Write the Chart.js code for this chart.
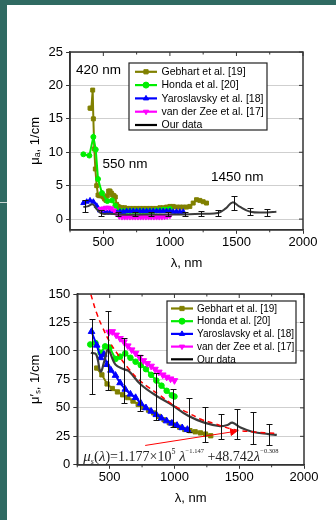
<!DOCTYPE html>
<html>
<head>
<meta charset="utf-8">
<script src="https://cdn.jsdelivr.net/npm/chart.js@4.4.1/dist/chart.umd.min.js"></script>
<style>
  html, body { margin: 0; padding: 0; background: #fff; }
  #page { position: relative; width: 336px; height: 520px; overflow: hidden; background: #fff; }
  .edge-top { position: absolute; left: 0; top: 0; width: 336px; height: 5px; background: #2f6a62; }
  .edge-left { position: absolute; left: 0; top: 0; width: 7px; height: 520px; background: #2f6a62; }
  .edge-mark { position: absolute; left: 0; top: 202px; width: 7px; height: 1px; background: #c9d6d3; }
  #absorb { position: absolute; left: 0; top: 0; }
  #scatter { position: absolute; left: 0; top: 265px; }
</style>
</head>
<body>
<div id="page">
  <div class="edge-top"></div>
  <div class="edge-left"></div>
  <div class="edge-mark"></div>
  <canvas id="absorb" width="336" height="275"></canvas>
  <canvas id="scatter" width="336" height="255"></canvas>
</div>
<script>
// ---- shared axis ticks ----
const xTicks = [500, 1000, 1500, 2000];
const muaTicks = [0, 5, 10, 15, 20, 25];
const musTicks = [0, 25, 50, 75, 100, 125, 150];

const names = ['Gebhart et al. [19]', 'Honda et al. [20]', 'Yaroslavsky et al. [18]', 'van der Zee et al. [17]', 'Our data'];

// ---- absorption, mu_a (1/cm) ----
const gebLamA = [400, 410, 420, 425, 432, 440, 450, 460, 470, 480, 490, 500, 510, 520, 530, 540, 550, 560, 570, 580, 590, 600, 610, 620, 640, 660, 680, 700, 725, 750, 775, 800, 825, 850, 875, 900, 925, 950, 975, 1000, 1025, 1050, 1075, 1100, 1125, 1150, 1175, 1200, 1225, 1250, 1275];
const gebMuA = [16.6, 16.6, 19.3, 15, 10.5, 7.5, 5, 3.6, 3.5, 3.5, 3.5, 3.3, 3, 2.8, 3.5, 4.2, 4.2, 3.9, 3.6, 3.5, 3.3, 2.2, 1.9, 1.8, 1.7, 1.7, 1.6, 1.6, 1.6, 1.6, 1.6, 1.6, 1.6, 1.6, 1.6, 1.6, 1.7, 1.7, 1.8, 1.9, 1.9, 1.8, 1.8, 1.8, 1.8, 1.9, 2.4, 2.9, 2.8, 2.6, 2.4];

const hondaLamA = [350, 395, 425, 443, 460, 490, 530, 565, 590, 610, 625, 650, 675, 700, 725, 750, 775, 800, 825, 850, 875, 900, 925, 950, 975, 1000];
const hondaMuA = [9.7, 9.5, 12.3, 10.4, 6, 3.9, 2.7, 2.8, 2.0, 1.3, 1.2, 1.2, 1.2, 1.2, 1.2, 1.2, 1.2, 1.2, 1.2, 1.2, 1.2, 1.3, 1.3, 1.4, 1.4, 1.5];

const yaroLamA = [350, 375, 400, 425, 450, 475, 500, 525, 550, 575, 600, 625, 650, 675, 700, 725, 750, 775, 800, 825, 850, 875, 900, 925, 950, 975, 1000, 1025, 1050, 1075, 1100];
const yaroMuA = [2.4, 2.6, 2.8, 2.6, 2.0, 1.3, 1.1, 1.0, 1.0, 1.0, 1.0, 1.1, 1.1, 1.2, 1.2, 1.2, 1.2, 1.2, 1.2, 1.2, 1.2, 1.2, 1.2, 1.2, 1.2, 1.2, 1.2, 1.1, 1.1, 1.1, 1.1];

const zeeLamA = [480, 500, 520, 540, 560, 580, 600, 620, 640, 660, 680, 700, 720, 740, 760, 780, 800, 820, 840, 860, 880, 900, 920, 940, 960, 980, 1000];
const zeeMuA = [1.5, 1.6, 1.7, 1.7, 1.6, 1.3, 0.8, 0.4, 0.3, 0.3, 0.3, 0.3, 0.3, 0.3, 0.3, 0.3, 0.3, 0.3, 0.3, 0.3, 0.3, 0.3, 0.3, 0.3, 0.35, 0.4, 0.5];

const ourLamA = [350, 380, 420, 450, 485, 550, 610, 735, 860, 985, 1110, 1235, 1360, 1420, 1470, 1520, 1605, 1730, 1800];
const ourMuA = [1.8, 1.9, 2.2, 1.5, 0.85, 0.8, 0.7, 0.65, 0.7, 0.7, 0.7, 0.8, 0.9, 1.6, 2.5, 1.9, 1.1, 1.0, 1.1];

const errLam = [360, 485, 610, 735, 860, 985, 1110, 1235, 1360, 1480, 1605, 1730];
const errLoA = [1.0, 0.5, 0.4, 0.4, 0.4, 0.4, 0.4, 0.5, 0.5, 1.3, 0.6, 0.5];
const errHiA = [2.8, 1.3, 1.0, 1.0, 1.0, 1.1, 1.1, 1.2, 1.4, 3.5, 1.6, 1.5];

// ---- reduced scattering, mu_s' (1/cm) ----
const gebLamS = [400, 440, 480, 520, 560, 600, 640, 680, 720, 760, 800, 840, 880, 920, 960, 1000, 1040, 1080, 1120, 1160, 1200, 1240, 1280];
const gebMuS = [85, 79, 71, 67, 64, 61.5, 59, 56, 53, 50.5, 48, 45.5, 42.5, 39.5, 37, 35, 33, 31, 30, 29, 28, 27, 25.5];

const hondaLamS = [350, 390, 430, 465, 500, 545, 580, 620, 660, 700, 740, 780, 820, 860, 900, 940, 980, 1000];
const hondaMuS = [105.7, 107, 98.4, 104, 103, 93, 95, 97.8, 94, 90.5, 87.5, 84, 79, 74, 69.5, 65, 61, 60];

const yaroLamS = [360, 400, 430, 455, 480, 510, 545, 580, 620, 660, 700, 740, 780, 820, 860, 900, 940, 980, 1020, 1060, 1100];
const yaroMuS = [117, 105, 94, 97, 88, 83, 78.5, 72, 66.3, 62, 59, 54, 50, 47, 44, 41, 38.5, 36.5, 34.5, 32.5, 31];

const zeeLamS = [495, 520, 550, 580, 610, 640, 670, 700, 730, 760, 790, 820, 850, 880, 910, 940, 970, 1000];
const zeeMuS = [116.5, 117, 114, 111, 108, 104.5, 101, 98, 94.5, 91.5, 89, 86.7, 84, 81.5, 79, 77, 75.5, 74];

const ourLamS = [355, 395, 430, 461, 488, 545, 610, 648, 736, 855, 982, 1106, 1230, 1352, 1410, 1447, 1510, 1601, 1726, 1790];
const ourMuS = [98.4, 97, 82, 92, 101, 88, 84, 82.3, 71, 61, 52.5, 43, 37, 34, 35, 37, 32.7, 29, 27, 26.3];

const errLoS = [62.5, 66, 54, 47, 39.4, 33.6, 29, 20, 22.5, 22.5, 18, 17.5];
const errHiS = [128, 135.5, 111.5, 96, 81, 67, 59, 51, 44.4, 49.4, 46.4, 35.6];

const fitLam = [355, 400, 444, 500, 572, 650, 723, 800, 876, 1002, 1100, 1205, 1300, 1458, 1600, 1790];
const fitMuS = [149.5, 133, 121, 108, 95.5, 84, 75, 68, 62, 51.7, 46, 40, 36.5, 31, 29, 27.5];

const arrowLam = [774, 1450];
const arrowMuS = [17, 29];

Chart.defaults.font.family = '"Liberation Sans", Arial, sans-serif';
Chart.defaults.font.size = 13;
Chart.defaults.color = '#000';

const xy = (xs, ys) => xs.map((x, i) => ({ x: x, y: ys[i] }));

function series(label, xs, ys, color, style, r, order) {
    return {
        label: label,
        data: xy(xs, ys),
        borderColor: color,
        backgroundColor: color,
        pointBackgroundColor: color,
        pointBorderColor: color,
        borderWidth: 2,
        pointStyle: style === 'triangle-down' ? 'triangle' : style,
        pointRotation: style === 'triangle-down' ? 180 : 0,
        pointRadius: r,
        pointBorderWidth: 1,
        tension: 0,
        order: order
    };
}

// draws plot frame, mirrored ticks on top/right and minor ticks
const frame = {
    id: 'frame',
    afterDatasetsDraw(chart) {
        const { ctx, chartArea: a, scales: { x, y } } = chart;
        ctx.save();
        ctx.strokeStyle = '#333';
        ctx.lineWidth = 1;
        ctx.beginPath();
        x.ticks.forEach(t => {
            const px = x.getPixelForValue(t.value);
            ctx.moveTo(px, a.top); ctx.lineTo(px, a.top + 4);
            const pm = x.getPixelForValue(t.value - 250);
            ctx.moveTo(pm, a.top); ctx.lineTo(pm, a.top + 2.5);
            ctx.moveTo(pm, a.bottom); ctx.lineTo(pm, a.bottom + 2.5);
        });
        y.ticks.forEach(t => {
            const py = y.getPixelForValue(t.value);
            ctx.moveTo(a.right, py); ctx.lineTo(a.right - 4, py);
        });
        ctx.stroke();
        ctx.lineWidth = 1.5;
        ctx.strokeRect(a.left, a.top, a.right - a.left, a.bottom - a.top);
        ctx.restore();
    }
};

const errorBars = {
    id: 'errorBars',
    afterDatasetsDraw(chart, args, o) {
        if (!o.xs) return;
        const { ctx, scales: { x, y } } = chart;
        ctx.save();
        ctx.strokeStyle = '#111';
        ctx.lineWidth = 1;
        ctx.beginPath();
        o.xs.forEach((v, i) => {
            const px = Math.round(x.getPixelForValue(v)) + 0.5;
            const top = Math.round(y.getPixelForValue(o.hi[i])) + 0.5;
            const bot = Math.round(y.getPixelForValue(o.lo[i])) + 0.5;
            ctx.moveTo(px, top); ctx.lineTo(px, bot);
            ctx.moveTo(px - o.cap, top); ctx.lineTo(px + o.cap, top);
            ctx.moveTo(px - o.cap, bot); ctx.lineTo(px + o.cap, bot);
        });
        ctx.stroke();
        ctx.restore();
    }
};

const notes = {
    id: 'notes',
    afterDatasetsDraw(chart, args, o) {
        if (!o.items) return;
        const { ctx, scales: { x, y } } = chart;
        ctx.save();
        ctx.fillStyle = '#000';
        ctx.font = o.size + 'px "Liberation Sans", Arial, sans-serif';
        ctx.textBaseline = 'middle';
        o.items.forEach(n => ctx.fillText(n.text, x.getPixelForValue(n.x), y.getPixelForValue(n.y)));
        ctx.restore();
    }
};

// fit formula written in runs (italic symbols, sub/superscripts)
const formula = {
    id: 'formula',
    afterDatasetsDraw(chart, args, o) {
        if (!o.runs) return;
        const { ctx, chartArea: a } = chart;
        ctx.save();
        ctx.fillStyle = '#222';
        ctx.textBaseline = 'alphabetic';
        let cx = a.left + o.dx;
        const base = a.bottom - o.dy;
        o.runs.forEach(r => {
            ctx.font = (r[2] ? 'italic ' : '') + r[1] + 'px "Liberation Serif", "Times New Roman", serif';
            ctx.fillText(r[0], cx, base + r[3]);
            cx += ctx.measureText(r[0]).width;
        });
        ctx.restore();
    }
};

const legendBox = {
    id: 'legendBox',
    afterDraw(chart, args, o) {
        if (!o.w) return;
        const ctx = chart.ctx;
        const sets = chart.data.datasets.filter(d => d.label);
        ctx.save();
        ctx.fillStyle = '#fff';
        ctx.fillRect(o.x, o.y, o.w, o.h);
        ctx.strokeStyle = '#222';
        ctx.lineWidth = 1.2;
        ctx.strokeRect(o.x, o.y, o.w, o.h);
        ctx.font = o.size + 'px "Liberation Sans", Arial, sans-serif';
        ctx.textBaseline = 'middle';
        sets.forEach((d, i) => {
            const yy = o.y + o.first + i * o.row;
            const x0 = o.x + o.pad;
            ctx.strokeStyle = d.label === 'Our data' ? '#000' : d.borderColor;
            ctx.lineWidth = 2.2;
            ctx.beginPath(); ctx.moveTo(x0, yy); ctx.lineTo(x0 + o.line, yy); ctx.stroke();
            if (d.pointRadius > 0) {
                ctx.fillStyle = d.pointBackgroundColor;
                ctx.strokeStyle = d.pointBorderColor;
                ctx.lineWidth = 1;
                Chart.helpers.drawPoint(ctx, { pointStyle: d.pointStyle, rotation: d.pointRotation, radius: o.mark, borderWidth: 1 }, x0 + o.line / 2, yy);
            }
            ctx.fillStyle = '#000';
            ctx.fillText(d.label, x0 + o.line + o.gap, yy + 0.5);
        });
        ctx.restore();
    }
};

function xScale() {
    return {
        type: 'linear', min: 250, max: 2000,
        afterBuildTicks: s => { s.ticks = xTicks.map(v => ({ value: v })); },
        grid: { drawOnChartArea: false, tickLength: 4, tickColor: '#333' },
        border: { color: '#333', width: 1.5 },
        ticks: { padding: 1, callback: v => String(v) },
        title: { display: true, text: 'λ, nm', padding: { top: 4, bottom: 4 } }
    };
}
function yScale(min, max, ticks, title) {
    return {
        min: min, max: max,
        afterBuildTicks: s => { s.ticks = ticks.map(v => ({ value: v })); },
        grid: { color: '#cfcfcf', tickLength: 4, tickColor: '#333' },
        border: { color: '#333', width: 1.5 },
        ticks: { padding: 3, callback: v => String(v) },
        title: { display: true, text: title, padding: { top: 4, bottom: 2 } }
    };
}

// Absorption chart //
new Chart(document.getElementById('absorb'), {
    type: 'line',
    data: {
        datasets: [
            series(names[0], gebLamA, gebMuA, '#808000', 'rect', 2.8, 5),
            series(names[1], hondaLamA, hondaMuA, '#00ee00', 'circle', 2.5, 4),
            series(names[2], yaroLamA, yaroMuA, '#0000ff', 'triangle', 3, 3),
            series(names[3], zeeLamA, zeeMuA, '#ff00ff', 'triangle-down', 3, 2),
            Object.assign(series(names[4], ourLamA, ourMuA, '#3c3c3c', 'circle', 0, 1), { tension: 0.4 })
        ]
    },
    options: {
        responsive: false,
        animation: false,
        layout: { padding: { top: 52, right: 33, left: 24, bottom: 0 } },
        scales: { x: xScale(), y: yScale(-1.6, 25, muaTicks, 'μₐ, 1/cm') },
        plugins: {
            legend: { display: false },
            tooltip: { enabled: false },
            errorBars: { xs: errLam, lo: errLoA, hi: errHiA, cap: 3 },
            notes: { size: 13.5, items: [
                { text: '420 nm', x: 295, y: 22.2 },
                { text: '550 nm', x: 493, y: 8.2 },
                { text: '1450 nm', x: 1309, y: 6.2 }
            ] },
            legendBox: { x: 129, y: 63, w: 138, h: 67, first: 8.8, row: 13.3, pad: 6, line: 22, gap: 4.5, size: 10.5, mark: 3 }
        }
    },
    plugins: [frame, errorBars, notes, legendBox]
});

// Scattering chart //
new Chart(document.getElementById('scatter'), {
    type: 'line',
    data: {
        datasets: [
            series(names[0], gebLamS, gebMuS, '#808000', 'rect', 3, 5),
            series(names[1], hondaLamS, hondaMuS, '#00ee00', 'circle', 2.8, 4),
            series(names[2], yaroLamS, yaroMuS, '#0000ff', 'triangle', 3.8, 3),
            series(names[3], zeeLamS, zeeMuS, '#ff00ff', 'triangle-down', 3.8, 2),
            Object.assign(series(names[4], ourLamS, ourMuS, '#3c3c3c', 'circle', 0, 1), { tension: 0.4, borderWidth: 2.2 }),
            Object.assign(series('', fitLam, fitMuS, '#ff0000', 'circle', 0, 0), { tension: 0.4, borderWidth: 1.5, borderDash: [5, 4] }),
            Object.assign(series('', arrowLam, arrowMuS, '#ff0000', 'triangle', 0, 0), { borderWidth: 1, pointRadius: [0, 4], pointRotation: 82 })
        ]
    },
    options: {
        responsive: false,
        animation: false,
        layout: { padding: { top: 29, right: 32, left: 24, bottom: 10 } },
        scales: { x: xScale(), y: yScale(0, 150, musTicks, 'μ′ₛ, 1/cm') },
        plugins: {
            legend: { display: false },
            tooltip: { enabled: false },
            errorBars: { xs: errLam, lo: errLoS, hi: errHiS, cap: 3 },
            formula: { dx: 6, dy: 4, runs: [
                ['μ', 15, true, 0], ['s', 8, true, 3], ['(', 15, false, 0], ['λ', 15, true, 0], [')=1.177×10', 14, false, 0],
                ['5', 8, false, -7], [' λ', 15, true, 0], ['−1.147', 6.5, false, -8], [' +48.742', 14, false, 0],
                ['λ', 15, true, 0], ['−0.308', 6.5, false, -8]
            ] },
            legendBox: { x: 167, y: 36, w: 129, h: 62, first: 7.5, row: 12.7, pad: 4, line: 22, gap: 4, size: 10, mark: 3 }
        }
    },
    plugins: [frame, errorBars, formula, legendBox]
});
</script>
</body>
</html>
